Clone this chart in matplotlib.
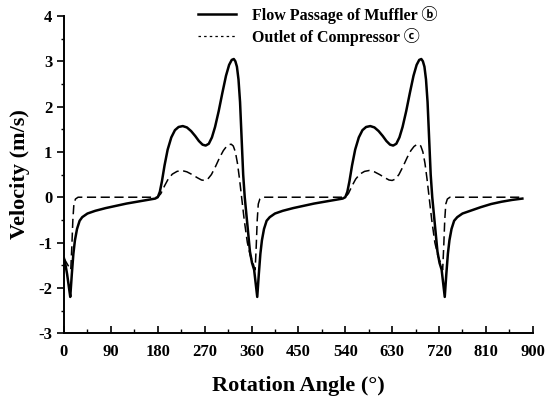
import numpy as np
import matplotlib.pyplot as plt
from matplotlib.lines import Line2D
from matplotlib.ticker import MultipleLocator

# Flow passage of muffler (solid)
muf_ang = [0, 3, 6, 9, 12, 15, 18, 21, 25, 30, 35, 45, 60, 80, 100, 120, 140, 160, 175,
           180, 184, 188, 193, 199, 206, 213, 220, 228, 236, 244, 252, 259, 266, 272, 278,
           284, 290, 297, 304, 311, 317, 322, 326, 329, 332, 335, 338, 341, 344, 347, 352,
           357, 361, 365, 368, 371, 374, 377, 380, 384, 389, 395, 405, 420, 440, 460, 480,
           500, 520, 535,
           540, 544, 548, 553, 559, 566, 573, 580, 588, 596, 604, 612, 619, 626, 632, 638,
           644, 650, 657, 664, 671, 677, 682, 686, 689, 692, 695, 698, 701, 704, 707, 712,
           717, 721, 725, 728, 731, 734, 737, 740, 744, 749, 755, 765, 780, 800, 820, 840,
           860, 880]
muf_vel = [-1.35, -1.5, -1.7, -1.95, -2.2, -1.7, -1.25, -0.95, -0.7, -0.52, -0.44, -0.36,
           -0.3, -0.24, -0.19, -0.14, -0.1, -0.06, -0.03,
           0.0, 0.12, 0.35, 0.7, 1.05, 1.32, 1.48, 1.55, 1.57, 1.54, 1.46, 1.35, 1.24, 1.16,
           1.14, 1.18, 1.32, 1.55, 1.9, 2.3, 2.68, 2.92, 3.03, 3.05, 3.0, 2.88, 2.6, 2.1,
           1.3, 0.5, 0.0, -0.6, -1.2, -1.45, -1.6, -1.9, -2.2, -1.7, -1.25, -0.95, -0.7,
           -0.52, -0.44, -0.36, -0.3, -0.24, -0.19, -0.14, -0.1, -0.06, -0.03,
           0.0, 0.12, 0.35, 0.7, 1.05, 1.32, 1.48, 1.55, 1.57, 1.54, 1.46, 1.35, 1.24, 1.16,
           1.14, 1.18, 1.32, 1.55, 1.9, 2.3, 2.68, 2.92, 3.03, 3.05, 3.0, 2.88, 2.6, 2.1,
           1.3, 0.5, 0.0, -0.6, -1.2, -1.45, -1.6, -1.9, -2.2, -1.7, -1.25, -0.95, -0.7,
           -0.52, -0.44, -0.36, -0.3, -0.22, -0.15, -0.1, -0.06, -0.03]

# Outlet of compressor (dashed)
cmp_ang = [0, 5, 10, 13, 15, 17, 19, 22, 27, 180, 186, 193, 200, 208, 217, 226, 236, 246,
           256, 264, 270, 276, 283, 291, 299, 306, 312, 317, 321, 325, 329, 333, 337, 341,
           346, 352, 358, 363, 365, 367, 369, 371, 373, 376, 381, 387,
           540, 546, 553, 560, 568, 577, 586, 596, 606, 616, 624, 630, 636, 643, 651, 659,
           666, 672, 677, 681, 685, 689, 693, 697, 701, 706, 712, 718, 723, 725, 727, 729,
           731, 733, 736, 741, 747, 880]
cmp_vel = [-1.35, -1.45, -1.55, -1.6, -1.1, -0.5, -0.15, -0.04, 0.0,
           0.0, 0.08, 0.25, 0.4, 0.51, 0.57, 0.59, 0.56, 0.5, 0.43, 0.38, 0.37, 0.4, 0.5,
           0.68, 0.88, 1.03, 1.12, 1.16, 1.17, 1.13, 1.0, 0.75, 0.4, 0.0, -0.5, -1.0, -1.3,
           -1.45, -1.55, -1.6, -1.1, -0.5, -0.15, -0.04, 0.0, 0.0,
           0.0, 0.08, 0.25, 0.4, 0.51, 0.57, 0.59, 0.56, 0.5, 0.43, 0.38, 0.37, 0.4, 0.5,
           0.68, 0.88, 1.03, 1.12, 1.16, 1.17, 1.13, 1.0, 0.75, 0.4, 0.0, -0.5, -1.0, -1.3,
           -1.45, -1.55, -1.6, -1.1, -0.5, -0.15, -0.04, 0.0, 0.0, 0.0]

xticks = np.arange(0, 901, 90)
yticks = np.arange(-3, 5, 1)

plt.rcParams['font.family'] = ['Liberation Serif', 'DejaVu Sans', 'Noto Sans CJK JP']
plt.rcParams['font.weight'] = 'bold'
plt.rcParams['axes.unicode_minus'] = False

fig = plt.figure(figsize=(5.47, 3.99), dpi=100)
ax = fig.add_axes([0.117, 0.165, 0.857, 0.795])

ax.plot(muf_ang, muf_vel, color='black', lw=1.8)
ax.plot(cmp_ang, cmp_vel, color='black', lw=1.1, dashes=(6, 3))

ax.set_xlim(0, 900)
ax.set_ylim(-3, 4)
ax.set_xticks(xticks)
ax.set_yticks(yticks)
ax.xaxis.set_minor_locator(MultipleLocator(45))
ax.yaxis.set_minor_locator(MultipleLocator(0.5))
ax.tick_params(axis='x', which='major', direction='in', length=5, width=1.2, labelsize=12, pad=8)
ax.tick_params(axis='x', which='minor', direction='in', length=3, width=1)
ax.tick_params(axis='y', which='major', direction='out', length=5, width=1.2, labelsize=12)
ax.tick_params(axis='y', which='minor', direction='out', length=2.5, width=1)
for lab in ax.get_xticklabels() + ax.get_yticklabels():
    lab.set_fontweight('bold')

for s in ['top', 'right']:
    ax.spines[s].set_visible(False)
for s in ['left', 'bottom']:
    ax.spines[s].set_linewidth(1.4)

ax.set_xlabel('Rotation Angle (°)', fontsize=16, fontweight='bold', labelpad=11)
ax.set_ylabel('Velocity (m/s)', fontsize=16, fontweight='bold', labelpad=6)

handles = [Line2D([], [], color='black', lw=1.8),
           Line2D([], [], color='black', lw=0.9, dashes=(2, 2.5))]
labels = ['Flow Passage of Muffler ⓑ', 'Outlet of Compressor ⓒ']
ax.legend(handles, labels, loc='upper left', bbox_to_anchor=(198 / 547, 1 - 6 / 399),
          bbox_transform=fig.transFigure, frameon=False, borderpad=0, borderaxespad=0,
          handlelength=2.4, handletextpad=1.0, labelspacing=0.25,
          prop={'size': 11.5, 'weight': 'bold'})

fig.savefig('out.png', dpi=100)
